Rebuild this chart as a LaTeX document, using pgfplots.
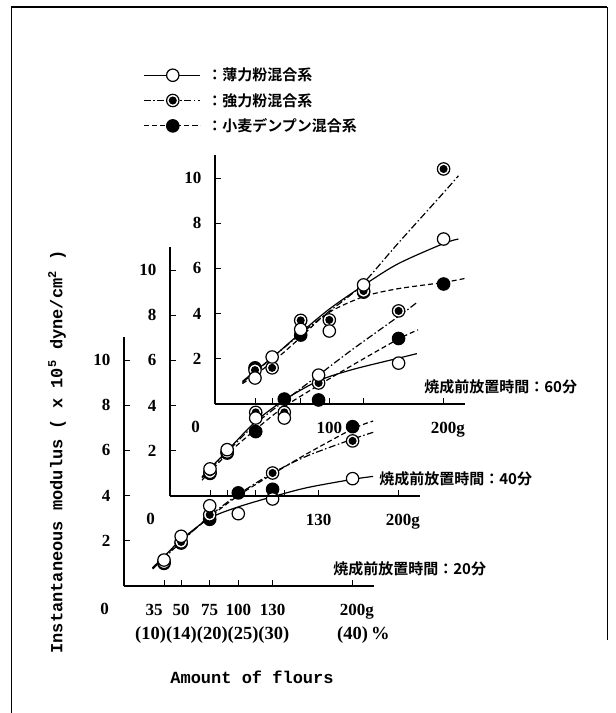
\documentclass[border=0pt]{standalone}
\usepackage{pgfplots}
\pgfplotsset{compat=1.18}
\usepackage{fontspec}
\setmainfont{Liberation Serif}
\setmonofont{Liberation Mono}
\newfontfamily\cjk{Noto Sans CJK JP}[BoldFont={* Bold}]

\pgfdeclareplotmark{dcirc}{%
  \pgfpathcircle{\pgfpointorigin}{\pgfplotmarksize}%
  \pgfsetfillcolor{white}%
  \pgfusepathqfillstroke
  \pgfpathcircle{\pgfpointorigin}{0.55\pgfplotmarksize}%
  \pgfsetfillcolor{black}%
  \pgfusepathqfillstroke
}

\pgfplotsset{
  panel/.style={
    scale only axis, width=250.3pt, height=248.6pt,
    xmin=0, xmax=219, ymin=0, ymax=11,
    anchor=south west,
    axis lines*=left, axis line style={line width=1.1pt,-},
    tick align=inside, major tick length=6pt,
    tick style={line width=1pt, black},
    ytick={2,4,6,8,10}, xtick={35,50,75,100,130,200},
    clip=false,
    /pgf/number format/assume math mode=true,
    every tick label/.append style={font=\bfseries\fontsize{17}{17}\selectfont},
    yticklabel style={xshift=-10pt},
    xticklabel style={yshift=-15pt},
  },
  crv/.style={line width=1.2pt, smooth, mark=none, black},
  soft/.style={crv, solid},
  strong/.style={crv, dash pattern=on 7pt off 2.5pt on 1.5pt off 2.5pt},
  starch/.style={crv, dash pattern=on 5pt off 3pt},
  msoft/.style={only marks, mark=*, mark size=6.2pt, mark options={solid, fill=white, draw=black, line width=1.2pt}},
  mstrong/.style={only marks, mark=dcirc, mark size=6.2pt, mark options={solid, draw=black, line width=1.2pt}},
  mstarch/.style={only marks, mark=*, mark size=6.2pt, mark options={solid, fill=black, draw=black, line width=1.2pt}},
}
\newcommand{\panellabel}[1]{\node[anchor=west, inner sep=0pt, font=\cjk\bfseries\fontsize{15}{15}\selectfont] at (axis cs:183,0.78) {焼成前放置時間：#1分};}
\newcommand{\zerolabel}{\node[anchor=east, inner sep=0pt, font=\bfseries\fontsize{17}{17}\selectfont] at (rel axis cs:0,0) [xshift=-15pt, yshift=-23pt] {0};}

\begin{document}
\begin{tikzpicture}
\path[use as bounding box] (0pt,0pt) rectangle (616pt,-713pt);
\draw[line width=2pt] (11pt,-7pt) -- (607pt,-7pt);
\draw[line width=0.8pt] (11pt,-7pt) -- (11pt,-713pt);
\draw[line width=1pt] (607pt,-7pt) -- (607pt,-640pt);

% ---------- bottom panel: 20 min ----------
\begin{axis}[panel, at={(124pt,-586pt)}, xticklabels={\rlap{\hspace{-18.5pt}35},50,75,100,130,200\rlap{g}}]
\addplot[soft] coordinates {(25,0.8) (35,1.3) (50,2.05) (75,3.0) (100,3.5) (130,3.95) (160,4.35) (200,4.72) (218,4.85)};
\addplot[strong] coordinates {(25,0.75) (50,1.95) (75,3.1) (100,4.05) (130,5.0) (160,5.75) (200,6.5) (218,6.8)};
\addplot[starch] coordinates {(25,0.8) (50,2.0) (75,3.05) (100,4.0) (130,4.95) (160,5.85) (200,6.95) (218,7.3)};
\addplot[mstarch] coordinates {(35,1.0) (50,1.9) (75,2.95) (100,4.12) (130,4.28) (200,7.05)};
\addplot[mstrong] coordinates {(35,1.05) (50,1.95) (75,3.15) (130,5.0) (200,6.42)};
\addplot[msoft] coordinates {(35,1.15) (50,2.2) (75,3.55) (100,3.2) (130,3.85) (200,4.75)};
\panellabel{20}
\zerolabel
\end{axis}

% ---------- middle panel: 40 min ----------
\begin{axis}[panel, at={(170pt,-496pt)}, xticklabels={,,,,130,200\rlap{g}}]
\addplot[soft] coordinates {(28,0.85) (50,2.0) (75,3.3) (100,4.25) (130,5.1) (160,5.6) (200,6.1) (216,6.3)};
\addplot[strong] coordinates {(28,0.8) (50,1.95) (75,3.2) (100,4.2) (130,5.35) (160,6.5) (200,7.95) (217,8.6)};
\addplot[starch] coordinates {(28,0.7) (50,1.85) (75,2.95) (100,3.95) (130,4.9) (160,5.8) (200,6.95) (217,7.35)};
\addplot[mstarch] coordinates {(35,1.0) (50,1.9) (75,2.85) (100,4.29) (130,4.25) (200,6.97)};
\addplot[mstrong] coordinates {(35,1.05) (50,1.95) (75,3.7) (100,3.7) (130,5.0) (200,8.19)};
\addplot[msoft] coordinates {(35,1.2) (50,2.05) (75,3.45) (100,3.45) (130,5.35) (200,5.88)};
\panellabel{40}
\zerolabel
\end{axis}

% ---------- top panel: 60 min ----------
\begin{axis}[panel, at={(215pt,-404pt)}, xticklabels={,,,100,,200\rlap{g}},
  legend image code/.code={\draw[mark repeat=2,mark phase=2,#1] plot coordinates {(0pt,0pt) (29pt,0pt) (56pt,0pt)};},
  legend style={at={(-0.2877,1.36)}, anchor=north west, draw=none, fill=none,
    inner sep=0pt, row sep=7pt,
    font=\cjk\bfseries\fontsize{15}{15}\selectfont},
  legend cell align=left]
\addlegendimage{soft, mark=*, mark size=6.2pt, mark options={solid, fill=white, line width=1.2pt}}
\addlegendentry{\hspace*{5pt}：薄力粉混合系}
\addlegendimage{strong, mark=dcirc, mark size=6.2pt, mark options={solid, line width=1.2pt}}
\addlegendentry{\hspace*{5pt}：強力粉混合系}
\addlegendimage{starch, mark=*, mark size=6.2pt, mark options={solid, fill=black, line width=1.2pt}}
\addlegendentry{\hspace*{5pt}：小麦デンプン混合系}
\addplot[soft] coordinates {(24,1.0) (35,1.45) (50,2.05) (75,3.15) (100,4.2) (130,5.25) (160,6.2) (200,7.1) (213,7.3)};
\addplot[strong] coordinates {(24,0.95) (50,2.05) (75,3.1) (100,4.1) (127,5.2) (160,7.1) (200,9.35) (213,10.1)};
\addplot[starch] coordinates {(24,0.9) (50,1.85) (75,2.95) (98,4.0) (130,4.75) (160,5.1) (200,5.38) (219,5.56)};
\addplot[mstarch] coordinates {(35,1.6) (75,3.05) (130,4.95) (200,5.31)};
\addplot[mstrong] coordinates {(35,1.5) (50,1.6) (75,3.7) (100,3.72) (130,5.0) (200,10.4)};
\addplot[msoft] coordinates {(35,1.15) (50,2.08) (75,3.3) (100,3.23) (130,5.27) (200,7.3)};
\panellabel{60}
\zerolabel
\end{axis}

% second row of x labels and axis titles
\node[anchor=west, inner sep=0pt, font=\bfseries\fontsize{18.5}{18.5}\selectfont] at (135pt,-635pt) {(10)(14)(20)(25)(30)};
\node[anchor=west, inner sep=0pt, font=\bfseries\fontsize{18.5}{18.5}\selectfont] at (337pt,-635pt) {(40)\,\%};
\node[font=\ttfamily\bfseries\fontsize{17}{17}\selectfont] at (252pt,-677pt) {Amount of flours};
\node[rotate=90, font=\ttfamily\bfseries\fontsize{17}{17}\selectfont] at (57pt,-452pt) {Instantaneous modulus ( x 10\textsuperscript{5} dyne/cm\textsuperscript{2} )};
\end{tikzpicture}
\end{document}
